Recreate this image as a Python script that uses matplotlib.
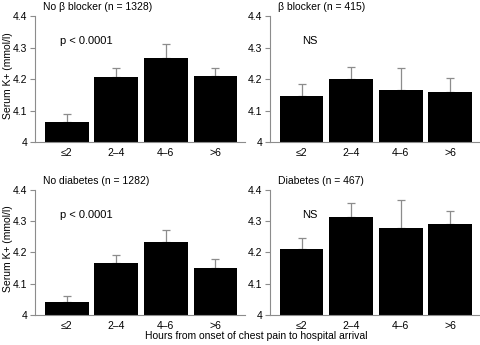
import numpy as np
import matplotlib.pyplot as plt

plt.rcParams["font.family"] = ["Liberation Sans", "DejaVu Sans"]
plt.rcParams["font.size"] = 7.5

GREY = "#8c8c8c"

categories = ["≤2", "2–4", "4–6", ">6"]

panel_titles = ["No β blocker (n = 1328)", "β blocker (n = 415)",
                "No diabetes (n = 1282)", "Diabetes (n = 467)"]
panel_notes = ["p < 0.0001", "NS", "p < 0.0001", "NS"]

# mean serum K+ per delay group, and top of the error bar
no_bb_mean = [4.063, 4.206, 4.266, 4.210]
no_bb_upper = [4.089, 4.234, 4.311, 4.234]
bb_mean = [4.147, 4.200, 4.165, 4.160]
bb_upper = [4.184, 4.237, 4.234, 4.203]
no_dm_mean = [4.043, 4.165, 4.232, 4.151]
no_dm_upper = [4.061, 4.191, 4.272, 4.178]
dm_mean = [4.210, 4.312, 4.277, 4.291]
dm_upper = [4.246, 4.359, 4.368, 4.334]

means = [no_bb_mean, bb_mean, no_dm_mean, dm_mean]
uppers = [no_bb_upper, bb_upper, no_dm_upper, dm_upper]

fig = plt.figure(figsize=(4.81, 3.45), dpi=100)
rects = [
    (0.0728, 0.5884, 0.4366, 0.3652),
    (0.5613, 0.5884, 0.4366, 0.3652),
    (0.0728, 0.0870, 0.4366, 0.3623),
    (0.5613, 0.0870, 0.4366, 0.3623),
]

x = np.arange(len(categories))
for i, rect in enumerate(rects):
    ax = fig.add_axes(rect)
    m = np.array(means[i])
    up = np.array(uppers[i]) - m
    ax.errorbar(x, m, yerr=[np.zeros_like(up), up], fmt="none",
                ecolor=GREY, elinewidth=0.9, capsize=3, capthick=0.9, zorder=1)
    ax.bar(x, m - 4.0, bottom=4.0, width=0.88, color="black", zorder=2)

    ax.set_xlim(-0.64, 3.6)
    ax.set_ylim(4.0, 4.4)
    ax.set_yticks([4.0, 4.1, 4.2, 4.3, 4.4])
    ax.set_yticklabels(["4", "4.1", "4.2", "4.3", "4.4"])
    ax.set_xticks(x)
    ax.set_xticklabels(categories)
    ax.tick_params(axis="x", length=0, pad=4)
    ax.tick_params(axis="y", direction="out", length=3.6, width=0.8,
                   color=GREY, pad=2)
    for side in ["top", "right"]:
        ax.spines[side].set_visible(False)
    for side in ["left", "bottom"]:
        ax.spines[side].set_color(GREY)
        ax.spines[side].set_linewidth(0.8)

    ax.text(0.04, 1.075, panel_titles[i], transform=ax.transAxes,
            ha="left", va="center")
    ax.text(0.119 if i % 2 == 0 else 0.152, 0.80, panel_notes[i],
            transform=ax.transAxes, ha="left", va="center", fontsize=8)
    if i % 2 == 0:
        ax.set_ylabel("Serum K+ (mmol/l)")
        ax.yaxis.set_label_coords(-0.106, 0.53)

fig.text(0.533, 0.026, "Hours from onset of chest pain to hospital arrival",
         ha="center", va="center", fontsize=7.5)

fig.savefig("out.png", dpi=100)
